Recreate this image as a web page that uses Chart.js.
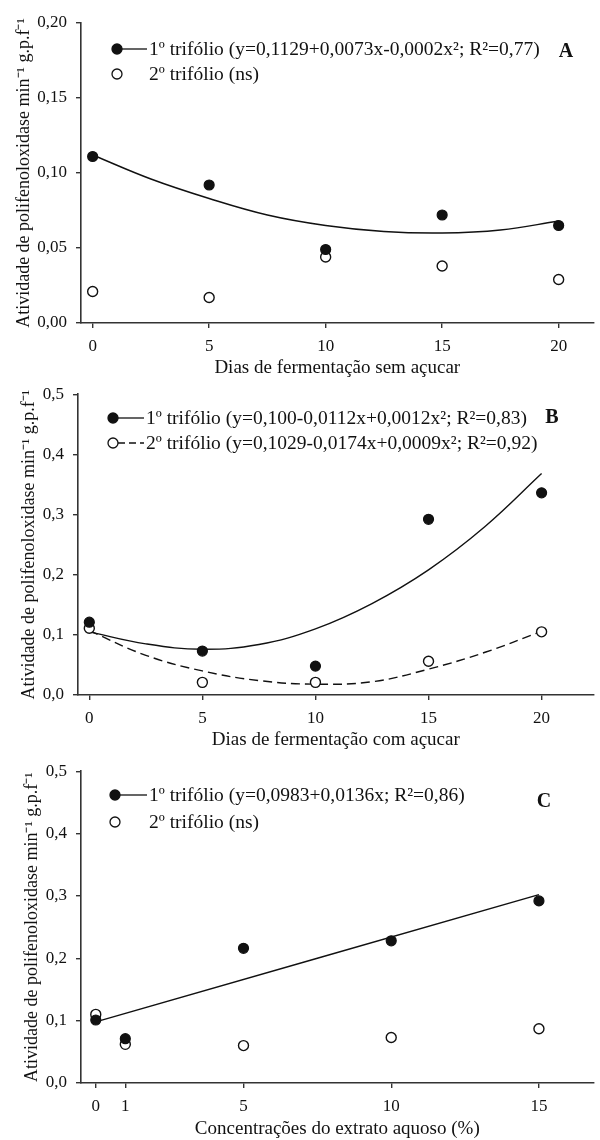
<!DOCTYPE html>
<html>
<head>
<meta charset="utf-8">
<script src="https://cdn.jsdelivr.net/npm/chart.js@4.4.0/dist/chart.umd.min.js"></script>
<style>
body { margin: 0; background: #fff; }
#wrap { position: relative; width: 600px; height: 1140px; }
canvas { position: absolute; left: 0; }
</style>
</head>
<body>
<div id="wrap">
  <canvas id="chartA" width="600" height="380" style="top:0px"></canvas>
  <canvas id="chartB" width="600" height="380" style="top:375px"></canvas>
  <canvas id="chartC" width="600" height="388" style="top:752px"></canvas>
</div>
<script>
// ---- panel A : sem açucar
const daysA = [0, 5, 10, 15, 20];
const first_A = [0.111, 0.092, 0.049, 0.072, 0.065];
const second_A = [0.021, 0.017, 0.044, 0.038, 0.029];
const fitX_A = [0, 2.5, 5, 7.5, 10, 12.5, 15, 17.5, 20];
const fitY_A = [0.112, 0.096, 0.083, 0.072, 0.065, 0.061, 0.060, 0.062, 0.068];
const yTicksA = [0, 0.05, 0.10, 0.15, 0.20];

// ---- panel B : com açucar
const daysB = [0, 5, 10, 15, 20];
const first_B = [0.121, 0.073, 0.048, 0.292, 0.336];
const second_B = [0.111, 0.021, 0.021, 0.056, 0.105];
const fitX_B = [0, 2.5, 5, 7.5, 10, 12.5, 15, 17.5, 20];
const fitY_B1 = [0.105, 0.085, 0.076, 0.084, 0.110, 0.152, 0.208, 0.280, 0.368];
const fitY_B2 = [0.107, 0.066, 0.040, 0.024, 0.018, 0.022, 0.043, 0.071, 0.106];

// ---- panel C : extrato aquoso
const concC = [0, 1, 5, 10, 15];
const first_C = [0.101, 0.071, 0.216, 0.228, 0.292];
const second_C = [0.110, 0.062, 0.060, 0.073, 0.087];
const fitX_C = [0, 15];
const fitY_C = [0.098, 0.302];

const yTicksBC = [0, 0.1, 0.2, 0.3, 0.4, 0.5];
const xTicksAB = [0, 5, 10, 15, 20];
const xTicksC = [0, 1, 5, 10, 15];

const yTitle = 'Atividade de polifenoloxidase min\u207B\u00B9 g.p.f\u207B\u00B9';
const xTitleA = 'Dias de fermentação sem açucar';
const xTitleB = 'Dias de fermentação com açucar';
const xTitleC = 'Concentrações do extrato aquoso (%)';

const legendA = ['1º trifólio (y=0,1129+0,0073x-0,0002x²; R²=0,77)', '2º trifólio (ns)'];
const legendB = ['1º trifólio (y=0,100-0,0112x+0,0012x²; R²=0,83)', '2º trifólio (y=0,1029-0,0174x+0,0009x²; R²=0,92)'];
const legendC = ['1º trifólio (y=0,0983+0,0136x; R²=0,86)', '2º trifólio (ns)'];

const SERIF = '"Liberation Serif", "Times New Roman", serif';
const INK = '#111';

function pts(xs, ys) {
    return xs.map((x, i) => ({ x: x, y: ys[i] }));
}

// legend drawn inside the plot, like the original figure
const panelLegend = {
    id: 'panelLegend',
    afterDraw(chart, args, o) {
        const ctx = chart.ctx;
        ctx.save();
        ctx.strokeStyle = INK;
        ctx.lineWidth = 1.3;
        ctx.textBaseline = 'middle';
        ctx.font = '19.5px ' + SERIF;
        o.rows.forEach(r => {
            if (r.line) {
                ctx.beginPath();
                ctx.setLineDash(r.dash || []);
                ctx.moveTo(o.markerX + 5, r.y);
                ctx.lineTo(o.textX - 2, r.y);
                ctx.stroke();
            }
            ctx.setLineDash([]);
            ctx.beginPath();
            ctx.arc(o.markerX, r.y, 5, 0, Math.PI * 2);
            ctx.fillStyle = r.filled ? INK : '#fff';
            ctx.fill();
            ctx.stroke();
            ctx.fillStyle = INK;
            ctx.fillText(r.text, o.textX, r.y + 1);
        });
        ctx.font = 'bold 20px ' + SERIF;
        ctx.textAlign = 'center';
        ctx.fillText(o.letter, o.letterX, o.letterY);
        ctx.restore();
    }
};

function makeChart(id, p) {
    const datasets = [
        {
            data: pts(p.xs, p.first), showLine: false, pointRadius: 5,
            pointBackgroundColor: INK, pointBorderColor: INK, pointBorderWidth: 1.2,
        },
        {
            data: pts(p.xs, p.second), showLine: false, pointRadius: 5,
            pointBackgroundColor: '#fff', pointBorderColor: INK, pointBorderWidth: 1.4,
        },
    ];
    p.fits.forEach(f => {
        datasets.push({
            data: pts(f.x, f.y), showLine: true, pointRadius: 0, tension: 0.4,
            borderColor: INK, borderWidth: 1.4, borderDash: f.dash || [],
        });
    });

    return new Chart(document.getElementById(id), {
        type: 'scatter',
        data: { datasets: datasets },
        plugins: [panelLegend],
        options: {
            responsive: false,
            animation: false,
            layout: { padding: { top: p.top, left: 0, right: 0, bottom: 0 } },
            plugins: {
                legend: { display: false },
                tooltip: { enabled: false },
                panelLegend: p.legend,
            },
            scales: {
                x: {
                    type: 'linear',
                    min: p.xMin, max: p.xMax,
                    afterBuildTicks: s => { s.ticks = p.xTicks.map(v => ({ value: v })); },
                    afterFit: s => { s.height = p.xHeight; },
                    grid: { drawOnChartArea: false, tickLength: 5, color: '#333', lineWidth: 1.4 },
                    border: { color: '#333', width: 1.6 },
                    ticks: { padding: 8, color: INK, font: { family: SERIF, size: 17 }, callback: v => String(v) },
                    title: {
                        display: true, text: p.xTitle, color: INK,
                        font: { family: SERIF, size: 19 }, padding: { top: 0, bottom: p.xTitlePad },
                    },
                },
                y: {
                    min: p.yTicks[0], max: p.yTicks[p.yTicks.length - 1],
                    afterBuildTicks: s => { s.ticks = p.yTicks.map(v => ({ value: v })); },
                    afterFit: s => { s.width = p.yWidth; },
                    grid: { drawOnChartArea: false, tickLength: 5, color: '#333', lineWidth: 1.4 },
                    border: { color: '#333', width: 1.6 },
                    ticks: {
                        padding: 9, color: INK, font: { family: SERIF, size: 17 },
                        callback: v => v.toFixed(p.dec).replace('.', ','),
                    },
                    title: {
                        display: true, text: yTitle, color: INK,
                        font: { family: SERIF, size: 18 }, padding: { top: p.yTitlePad, bottom: 0 },
                    },
                },
            },
        },
    });
}

makeChart('chartA', {
    xs: daysA, first: first_A, second: second_A,
    fits: [{ x: fitX_A, y: fitY_A }],
    top: 23, xHeight: 57, yWidth: 81, xMin: -0.5, xMax: 21.5,
    xTicks: xTicksAB, yTicks: yTicksA, dec: 2,
    xTitle: xTitleA, xTitlePad: 1, yTitlePad: 13,
    legend: {
        markerX: 117, textX: 149, letter: 'A', letterX: 566, letterY: 52,
        rows: [
            { text: legendA[0], y: 49, filled: true, line: true },
            { text: legendA[1], y: 74, filled: false, line: false },
        ],
    },
});

makeChart('chartB', {
    xs: daysB, first: first_B, second: second_B,
    fits: [{ x: fitX_B, y: fitY_B1 }, { x: fitX_B, y: fitY_B2, dash: [9, 5] }],
    top: 17, xHeight: 60, yWidth: 78, xMin: -0.5, xMax: 22.3,
    xTicks: xTicksAB, yTicks: yTicksBC, dec: 1,
    xTitle: xTitleB, xTitlePad: 4, yTitlePad: 18,
    legend: {
        markerX: 113, textX: 146, letter: 'B', letterX: 552, letterY: 43,
        rows: [
            { text: legendB[0], y: 43, filled: true, line: true },
            { text: legendB[1], y: 68, filled: false, line: true, dash: [7, 4] },
        ],
    },
});

makeChart('chartC', {
    xs: concC, first: first_C, second: second_C,
    fits: [{ x: fitX_C, y: fitY_C }],
    top: 15, xHeight: 57, yWidth: 81, xMin: -0.5, xMax: 16.85,
    xTicks: xTicksC, yTicks: yTicksBC, dec: 1,
    xTitle: xTitleC, xTitlePad: 0, yTitlePad: 21,
    legend: {
        markerX: 115, textX: 149, letter: 'C', letterX: 544, letterY: 50,
        rows: [
            { text: legendC[0], y: 43, filled: true, line: true },
            { text: legendC[1], y: 70, filled: false, line: false },
        ],
    },
});
</script>
</body>
</html>
